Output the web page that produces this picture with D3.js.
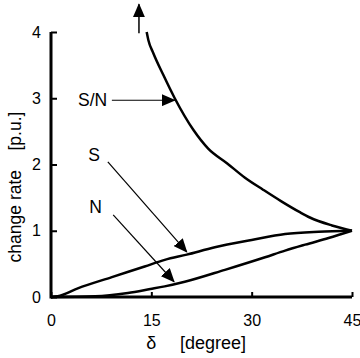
<!DOCTYPE html>
<html>
<head>
<meta charset="utf-8">
<script src="https://cdn.jsdelivr.net/npm/d3@7"></script>
<style>
  body { margin: 0; background: #fff; }
  svg { display: block; font-family: Arial, "Liberation Sans", sans-serif; }
</style>
</head>
<body>
<svg id="chart" width="360" height="358"></svg>
<script>
// curve data: [delta (degree), change rate (p.u.)]
const snCurve = [[14.3, 4.0], [14.55, 3.88], [15.3, 3.68], [16.8, 3.35], [18.5, 3.0], [21.3, 2.52],
  [23.5, 2.24], [26.3, 2.02], [29, 1.8], [31.7, 1.62], [34.5, 1.44], [37.2, 1.28],
  [38.7, 1.2], [42, 1.08], [45, 1.0]];
const sCurve = [[0, 0], [1, 0.01], [4, 0.13], [9.1, 0.3], [14, 0.46], [17, 0.56], [20.3, 0.64],
  [24.5, 0.75], [30, 0.86], [35, 0.95], [40, 0.985], [45, 1.0]];
const nCurve = [[0, 0], [6.6, 0.01], [11.5, 0.06], [14.85, 0.12], [17, 0.16], [20, 0.23],
  [26, 0.41], [32, 0.6], [35, 0.7], [38, 0.79], [41.5, 0.89], [45, 1.0]];

const xTicks = [0, 15, 30, 45];
const yTicks = [0, 1, 2, 3, 4];

// annotations: label text + arrow from -> to, in data units
const notes = [
  { label: "S/N", lx: 8.4, ly: 2.97, from: [9.1, 2.97], to: [18.5, 2.97] },
  { label: "S", lx: 7.3, ly: 2.15, from: [8.5, 2.04], to: [20.3, 0.68] },
  { label: "N", lx: 7.6, ly: 1.36, from: [9.3, 1.24], to: [18.4, 0.23] }
];
const upArrow = { from: [13.15, 3.98], to: [13.15, 4.42] };

const svg = d3.select("#chart");

const x = d3.scaleLinear().domain([0, 45]).range([51, 352]);
const y = d3.scaleLinear().domain([0, 4]).range([297, 32]);

// arrowhead
svg.append("defs").append("marker")
    .attr("id", "head")
    .attr("markerUnits", "userSpaceOnUse")
    .attr("viewBox", "0 0 14 12")
    .attr("refX", 13)
    .attr("refY", 6)
    .attr("markerWidth", 14)
    .attr("markerHeight", 12)
    .attr("orient", "auto")
  .append("path")
    .attr("d", "M0,0 L14,6 L0,12 Z")
    .attr("fill", "#000");

// Axes
const xAxis = d3.axisBottom(x)
    .tickValues(xTicks)
    .tickFormat(d3.format("d"))
    .tickSize(-5)
    .tickPadding(18);

const yAxis = d3.axisLeft(y)
    .tickValues(yTicks)
    .tickFormat(d3.format("d"))
    .tickSize(-6)
    .tickPadding(10);

const gx = svg.append("g")
    .attr("transform", `translate(0,${y(0)})`)
    .call(xAxis);

const gy = svg.append("g")
    .attr("transform", `translate(${x(0)},0)`)
    .call(yAxis);

[gx, gy].forEach(g => {
    g.select(".domain").remove();
    g.selectAll(".tick line").attr("stroke", "#000").attr("stroke-width", 2);
    g.selectAll(".tick text")
        .style("font-size", "16px")
        .attr("fill", "#000");
});

// axis lines drawn thick
svg.append("line")
    .attr("x1", x(0)).attr("x2", x(45))
    .attr("y1", y(0)).attr("y2", y(0))
    .attr("stroke", "#000").attr("stroke-width", 3);
svg.append("line")
    .attr("x1", x(0)).attr("x2", x(0))
    .attr("y1", y(0) + 1.5).attr("y2", y(4))
    .attr("stroke", "#000").attr("stroke-width", 3);

// Curves
const line = d3.line()
    .x(d => x(d[0]))
    .y(d => y(d[1]))
    .curve(d3.curveMonotoneX);

[snCurve, sCurve, nCurve].forEach(c => {
    svg.append("path")
        .datum(c)
        .attr("fill", "none")
        .attr("stroke", "#000")
        .attr("stroke-width", 2.5)
        .attr("stroke-linejoin", "round")
        .attr("d", line);
});

// Annotations
notes.forEach(n => {
    svg.append("text")
        .attr("x", x(n.lx))
        .attr("y", y(n.ly))
        .attr("dy", "0.35em")
        .attr("text-anchor", "end")
        .style("font-size", "17.5px")
        .text(n.label);

    svg.append("line")
        .attr("x1", x(n.from[0])).attr("y1", y(n.from[1]))
        .attr("x2", x(n.to[0])).attr("y2", y(n.to[1]))
        .attr("stroke", "#000")
        .attr("stroke-width", 1.2)
        .attr("marker-end", "url(#head)");
});

svg.append("line")
    .attr("x1", x(upArrow.from[0])).attr("y1", y(upArrow.from[1]))
    .attr("x2", x(upArrow.to[0])).attr("y2", y(upArrow.to[1]))
    .attr("stroke", "#000")
    .attr("stroke-width", 1.5)
    .attr("marker-end", "url(#head)");

// Axis labels
svg.append("text")
    .attr("transform", "translate(21,187) rotate(-90)")
    .attr("text-anchor", "middle")
    .style("font-size", "17.5px")
    .style("white-space", "pre")
    .attr("xml:space", "preserve")
    .text("change rate    [p.u.]");

svg.append("text")
    .attr("x", x(15))
    .attr("y", 349)
    .attr("text-anchor", "middle")
    .style("font-size", "18px")
    .text("δ");

svg.append("text")
    .attr("x", 180)
    .attr("y", 349)
    .style("font-size", "18px")
    .text("[degree]");
</script>
</body>
</html>
